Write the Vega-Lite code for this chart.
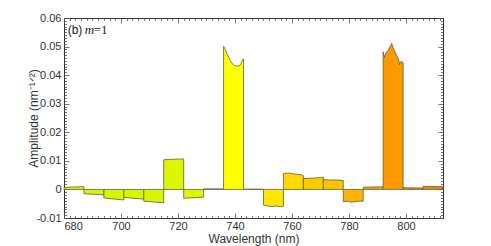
{
  "$schema": "https://vega.github.io/schema/vega-lite/v6.json",
  "width": 379,
  "height": 200,
  "autosize": "none",
  "padding": {"left": 64, "top": 18, "right": 48, "bottom": 28},
  "background": "white",
  "config": {
    "view": {"stroke": "#333333", "strokeWidth": 1},
    "axis": {
      "labelFont": "Liberation Sans",
      "titleFont": "Liberation Sans",
      "labelFontSize": 11,
      "titleFontSize": 12,
      "labelColor": "#333333",
      "titleColor": "#333333",
      "titleFontWeight": "normal",
      "domain": false,
      "grid": false,
      "tickColor": "#555555",
      "tickWidth": 0.8
    }
  },
  "datasets": {
    "amp": [
      {"seg": "s01", "wl": 680, "amp": 0.0007}, {"seg": "s01", "wl": 687, "amp": 0.0010},
      {"seg": "s02", "wl": 687, "amp": -0.0015}, {"seg": "s02", "wl": 694, "amp": -0.0019},
      {"seg": "s03", "wl": 694, "amp": -0.0030}, {"seg": "s03", "wl": 701, "amp": -0.0037},
      {"seg": "s04", "wl": 701, "amp": -0.0028}, {"seg": "s04", "wl": 708, "amp": -0.0034},
      {"seg": "s05", "wl": 708, "amp": -0.0041}, {"seg": "s05", "wl": 715, "amp": -0.0047},
      {"seg": "s06", "wl": 715, "amp": 0.0104}, {"seg": "s06", "wl": 722, "amp": 0.0107},
      {"seg": "s07", "wl": 722, "amp": -0.0031}, {"seg": "s07", "wl": 729, "amp": -0.0027},
      {"seg": "s08", "wl": 729, "amp": 0.0002}, {"seg": "s08", "wl": 736, "amp": 0.0002},
      {"seg": "s09", "wl": 736, "amp": 0.0501}, {"seg": "s09", "wl": 736.5, "amp": 0.0492},
      {"seg": "s09", "wl": 737, "amp": 0.0480}, {"seg": "s09", "wl": 737.6, "amp": 0.0466},
      {"seg": "s09", "wl": 738.3, "amp": 0.0452}, {"seg": "s09", "wl": 739, "amp": 0.0441},
      {"seg": "s09", "wl": 739.8, "amp": 0.0434}, {"seg": "s09", "wl": 740.6, "amp": 0.0432},
      {"seg": "s09", "wl": 741.4, "amp": 0.0433}, {"seg": "s09", "wl": 742, "amp": 0.0437},
      {"seg": "s09", "wl": 742.4, "amp": 0.0448}, {"seg": "s09", "wl": 742.7, "amp": 0.0454},
      {"seg": "s09", "wl": 743, "amp": 0.0457},
      {"seg": "s10", "wl": 743, "amp": 0.0001}, {"seg": "s10", "wl": 750, "amp": 0.0001},
      {"seg": "s11", "wl": 750, "amp": -0.0055}, {"seg": "s11", "wl": 751.5, "amp": -0.0058},
      {"seg": "s11", "wl": 753, "amp": -0.0060}, {"seg": "s11", "wl": 754.5, "amp": -0.0058},
      {"seg": "s11", "wl": 756, "amp": -0.0060}, {"seg": "s11", "wl": 757, "amp": -0.0059},
      {"seg": "s12", "wl": 757, "amp": 0.0056}, {"seg": "s12", "wl": 759, "amp": 0.0057},
      {"seg": "s12", "wl": 761, "amp": 0.0054}, {"seg": "s12", "wl": 763, "amp": 0.0052},
      {"seg": "s12", "wl": 764, "amp": 0.0048},
      {"seg": "s13", "wl": 764, "amp": 0.0038}, {"seg": "s13", "wl": 766, "amp": 0.0039},
      {"seg": "s13", "wl": 768, "amp": 0.0040}, {"seg": "s13", "wl": 770, "amp": 0.0042},
      {"seg": "s13", "wl": 771, "amp": 0.0043},
      {"seg": "s14", "wl": 771, "amp": 0.0034}, {"seg": "s14", "wl": 774, "amp": 0.0033},
      {"seg": "s14", "wl": 776, "amp": 0.0033}, {"seg": "s14", "wl": 778, "amp": 0.0031},
      {"seg": "s15", "wl": 778, "amp": -0.0043}, {"seg": "s15", "wl": 779.5, "amp": -0.0041},
      {"seg": "s15", "wl": 781, "amp": -0.0045}, {"seg": "s15", "wl": 782.5, "amp": -0.0042},
      {"seg": "s15", "wl": 784, "amp": -0.0041}, {"seg": "s15", "wl": 785, "amp": -0.0041},
      {"seg": "s16", "wl": 785, "amp": 0.0008}, {"seg": "s16", "wl": 792, "amp": 0.0009},
      {"seg": "s17", "wl": 792, "amp": 0.0482}, {"seg": "s17", "wl": 792.4, "amp": 0.0462},
      {"seg": "s17", "wl": 793, "amp": 0.0479}, {"seg": "s17", "wl": 793.8, "amp": 0.0487},
      {"seg": "s17", "wl": 794.4, "amp": 0.0499}, {"seg": "s17", "wl": 795, "amp": 0.0511},
      {"seg": "s17", "wl": 795.6, "amp": 0.0492}, {"seg": "s17", "wl": 796.2, "amp": 0.0480},
      {"seg": "s17", "wl": 796.8, "amp": 0.0468}, {"seg": "s17", "wl": 797.4, "amp": 0.0457},
      {"seg": "s17", "wl": 797.8, "amp": 0.0436}, {"seg": "s17", "wl": 798.3, "amp": 0.0448},
      {"seg": "s17", "wl": 799, "amp": 0.0444},
      {"seg": "s18", "wl": 799, "amp": 0.0006}, {"seg": "s18", "wl": 806, "amp": 0.0005},
      {"seg": "s19", "wl": 806, "amp": 0.0011}, {"seg": "s19", "wl": 813, "amp": 0.0009}
    ],
    "label_b": [{"wl": 681.3, "amp": 0.0558, "t": "(b)"}],
    "label_m": [{"wl": 687.3, "amp": 0.0558, "t": "m"}],
    "label_eq": [{"wl": 690.4, "amp": 0.0558, "t": "=1"}]
  },
  "layer": [
    {
      "data": {"name": "amp"},
      "mark": {"type": "area", "stroke": "#5e5e3c", "strokeWidth": 0.8, "opacity": 1, "fillOpacity": 1},
      "encoding": {
        "x": {
          "field": "wl", "type": "quantitative",
          "scale": {"domain": [680, 813], "nice": false, "zero": false},
          "axis": {"orient": "bottom", "values": [680, 700, 720, 740, 760, 780, 800], "tickSize": -5, "labelPadding": 7, "title": "Wavelength (nm)", "titlePadding": 2}
        },
        "y": {
          "field": "amp", "type": "quantitative", "stack": null,
          "scale": {"domain": [-0.01, 0.06], "nice": false, "zero": false},
          "axis": {"orient": "left", "values": [-0.01, 0, 0.01, 0.02, 0.03, 0.04, 0.05, 0.06], "tickSize": -5, "labelPadding": 8,
                   "labelExpr": "datum.value < -0.005 ? '-0.01' : (abs(datum.value) < 0.0001 ? '0' : format(datum.value, '.2f'))",
                   "title": "Amplitude (nm⁻¹ᐟ²)", "titlePadding": -5}
        },
        "y2": {"datum": 0},
        "color": {
          "field": "seg", "type": "nominal", "legend": null,
          "scale": {
            "domain": ["s01","s02","s03","s04","s05","s06","s07","s08","s09","s10","s11","s12","s13","s14","s15","s16","s17","s18","s19"],
            "range": ["#dbf800","#d8f500","#d8f500","#d8f500","#d8f500","#dcf800","#dcf800","#ecff00","#ffff00","#fff200","#ffe600","#ffd800","#ffcc00","#ffc400","#ffb300","#ffa000","#ff9900","#ff8c00","#ff8200"]
          }
        }
      }
    },
    {
      "data": {"name": "amp"},
      "mark": {"type": "point", "opacity": 0},
      "encoding": {
        "x": {"field": "wl", "type": "quantitative", "scale": {"domain": [680, 813], "nice": false, "zero": false},
              "axis": {"orient": "bottom", "values": [682,684,686,688,690,692,694,696,698,702,704,706,708,710,712,714,716,718,722,724,726,728,730,732,734,736,738,742,744,746,748,750,752,754,756,758,762,764,766,768,770,772,774,776,778,782,784,786,788,790,792,794,796,798,802,804,806,808,810,812], "tickSize": -2.5, "labels": false, "title": null}},
        "y": {"field": "amp", "type": "quantitative", "scale": {"domain": [-0.01, 0.06], "nice": false, "zero": false},
              "axis": {"orient": "left", "values": [-0.009,-0.008,-0.007,-0.006,-0.005,-0.004,-0.003,-0.002,-0.001,0.001,0.002,0.003,0.004,0.005,0.006,0.007,0.008,0.009,0.011,0.012,0.013,0.014,0.015,0.016,0.017,0.018,0.019,0.021,0.022,0.023,0.024,0.025,0.026,0.027,0.028,0.029,0.031,0.032,0.033,0.034,0.035,0.036,0.037,0.038,0.039,0.041,0.042,0.043,0.044,0.045,0.046,0.047,0.048,0.049,0.051,0.052,0.053,0.054,0.055,0.056,0.057,0.058,0.059], "tickSize": -2.5, "labels": false, "title": null}}
      }
    },
    {
      "data": {"name": "amp"},
      "mark": {"type": "point", "opacity": 0},
      "encoding": {
        "x": {"field": "wl", "type": "quantitative", "scale": {"domain": [680, 813], "nice": false, "zero": false},
              "axis": {"orient": "top", "values": [680, 700, 720, 740, 760, 780, 800], "tickSize": -5, "labels": false, "title": null}},
        "y": {"field": "amp", "type": "quantitative", "scale": {"domain": [-0.01, 0.06], "nice": false, "zero": false},
              "axis": {"orient": "right", "values": [-0.01, 0, 0.01, 0.02, 0.03, 0.04, 0.05, 0.06], "tickSize": -5, "labels": false, "title": null}}
      }
    },
    {
      "data": {"name": "amp"},
      "mark": {"type": "point", "opacity": 0},
      "encoding": {
        "x": {"field": "wl", "type": "quantitative", "scale": {"domain": [680, 813], "nice": false, "zero": false},
              "axis": {"orient": "top", "values": [682,684,686,688,690,692,694,696,698,702,704,706,708,710,712,714,716,718,722,724,726,728,730,732,734,736,738,742,744,746,748,750,752,754,756,758,762,764,766,768,770,772,774,776,778,782,784,786,788,790,792,794,796,798,802,804,806,808,810,812], "tickSize": -2.5, "labels": false, "title": null}},
        "y": {"field": "amp", "type": "quantitative", "scale": {"domain": [-0.01, 0.06], "nice": false, "zero": false},
              "axis": {"orient": "right", "values": [-0.009,-0.008,-0.007,-0.006,-0.005,-0.004,-0.003,-0.002,-0.001,0.001,0.002,0.003,0.004,0.005,0.006,0.007,0.008,0.009,0.011,0.012,0.013,0.014,0.015,0.016,0.017,0.018,0.019,0.021,0.022,0.023,0.024,0.025,0.026,0.027,0.028,0.029,0.031,0.032,0.033,0.034,0.035,0.036,0.037,0.038,0.039,0.041,0.042,0.043,0.044,0.045,0.046,0.047,0.048,0.049,0.051,0.052,0.053,0.054,0.055,0.056,0.057,0.058,0.059], "tickSize": -2.5, "labels": false, "title": null}}
      }
    },
    {
      "data": {"name": "label_b"},
      "mark": {"type": "text", "align": "left", "baseline": "middle", "font": "Liberation Sans", "fontSize": 12, "color": "#222222"},
      "encoding": {
        "x": {"field": "wl", "type": "quantitative", "scale": {"domain": [680, 813], "nice": false, "zero": false}, "axis": null},
        "y": {"field": "amp", "type": "quantitative", "scale": {"domain": [-0.01, 0.06], "nice": false, "zero": false}, "axis": null},
        "text": {"field": "t"}
      }
    },
    {
      "data": {"name": "label_m"},
      "mark": {"type": "text", "align": "left", "baseline": "middle", "font": "Liberation Serif", "fontStyle": "italic", "fontSize": 13, "color": "#222222"},
      "encoding": {
        "x": {"field": "wl", "type": "quantitative", "scale": {"domain": [680, 813], "nice": false, "zero": false}, "axis": null},
        "y": {"field": "amp", "type": "quantitative", "scale": {"domain": [-0.01, 0.06], "nice": false, "zero": false}, "axis": null},
        "text": {"field": "t"}
      }
    },
    {
      "data": {"name": "label_eq"},
      "mark": {"type": "text", "align": "left", "baseline": "middle", "font": "Liberation Serif", "fontSize": 13, "color": "#222222"},
      "encoding": {
        "x": {"field": "wl", "type": "quantitative", "scale": {"domain": [680, 813], "nice": false, "zero": false}, "axis": null},
        "y": {"field": "amp", "type": "quantitative", "scale": {"domain": [-0.01, 0.06], "nice": false, "zero": false}, "axis": null},
        "text": {"field": "t"}
      }
    }
  ],
  "resolve": {"axis": {"x": "independent", "y": "independent"}}
}
